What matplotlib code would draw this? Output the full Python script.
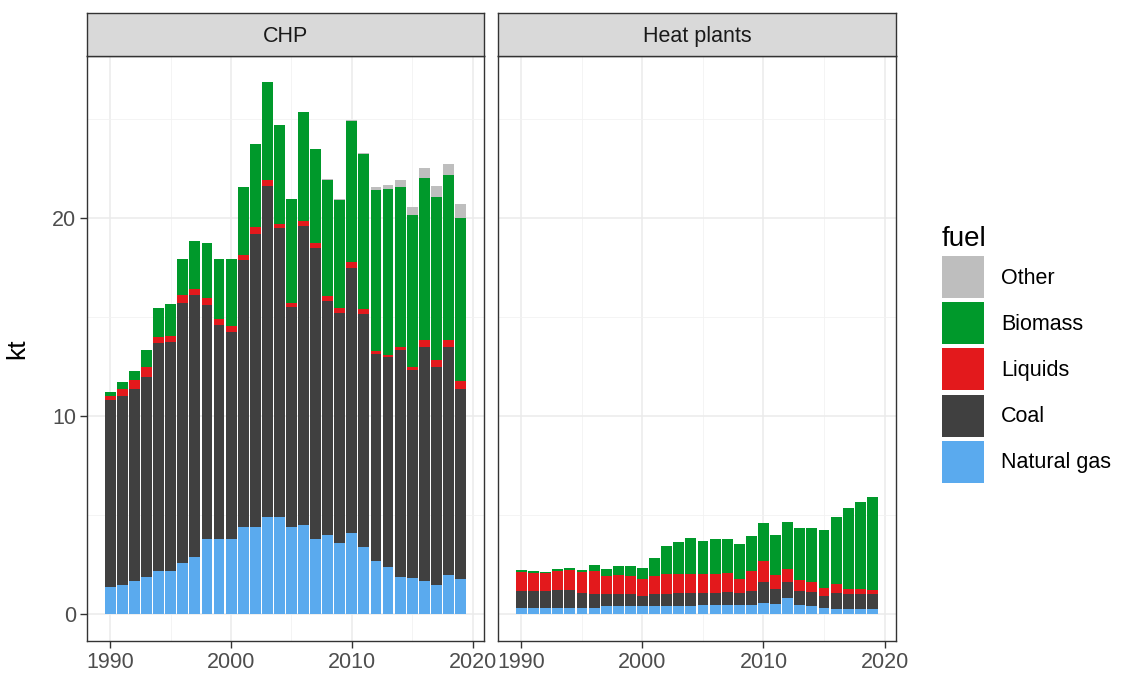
import numpy as np
import matplotlib
matplotlib.use("Agg")
import matplotlib.pyplot as plt
from matplotlib.patches import Patch
from matplotlib.ticker import MultipleLocator

plt.rcParams['font.family'] = ['Liberation Sans', 'DejaVu Sans']

# Data (kt)
years = list(range(1990, 2020))
fuels = ["Natural gas", "Coal", "Liquids", "Biomass", "Other"]
fuel_colors = ["#5AAAEE", "#404040", "#E3191C", "#00992B", "#BEBEBE"]

chp_gas = [1.4, 1.5, 1.7, 1.9, 2.2, 2.2, 2.6, 2.9, 3.8, 3.8,
           3.8, 4.4, 4.4, 4.9, 4.9, 4.4, 4.5, 3.8, 4.0, 3.6,
           4.1, 3.4, 2.7, 2.4, 1.9, 1.85, 1.7, 1.5, 2.0, 1.8]
chp_coal = [9.4, 9.5, 9.7, 10.1, 11.5, 11.55, 13.1, 13.2, 11.8, 10.8,
            10.45, 13.5, 14.8, 16.7, 14.6, 11.1, 15.1, 14.7, 11.8, 11.6,
            13.4, 11.75, 10.45, 10.6, 11.45, 10.5, 11.8, 11.0, 11.5, 9.6]
chp_liquids = [0.2, 0.38, 0.42, 0.5, 0.3, 0.3, 0.42, 0.34, 0.37, 0.32,
               0.33, 0.26, 0.33, 0.34, 0.21, 0.22, 0.25, 0.26, 0.25, 0.26,
               0.3, 0.28, 0.15, 0.1, 0.15, 0.13, 0.33, 0.33, 0.33, 0.38]
chp_biomass = [0.21, 0.37, 0.46, 0.84, 1.46, 1.63, 1.8, 2.39, 2.75, 3.04,
               3.38, 3.4, 4.22, 4.92, 4.97, 5.22, 5.48, 4.75, 5.87, 5.43,
               7.08, 7.79, 8.11, 8.36, 8.08, 7.67, 8.18, 8.26, 8.32, 8.21]
chp_other = [0, 0, 0, 0, 0, 0, 0, 0, 0, 0,
             0, 0, 0, 0, 0, 0, 0, 0, 0.05, 0.05,
             0.05, 0.05, 0.17, 0.21, 0.34, 0.42, 0.51, 0.51, 0.57, 0.73]

heat_gas = [0.34, 0.34, 0.34, 0.34, 0.34, 0.34, 0.34, 0.42, 0.42, 0.42,
            0.42, 0.42, 0.42, 0.42, 0.42, 0.5, 0.5, 0.5, 0.5, 0.5,
            0.59, 0.55, 0.84, 0.5, 0.45, 0.34, 0.29, 0.29, 0.29, 0.29]
heat_coal = [0.84, 0.84, 0.84, 0.89, 0.89, 0.76, 0.67, 0.59, 0.59, 0.59,
             0.51, 0.59, 0.59, 0.64, 0.68, 0.6, 0.6, 0.62, 0.6, 0.68,
             1.05, 0.71, 0.8, 0.68, 0.68, 0.59, 0.81, 0.72, 0.72, 0.72]
heat_liquids = [0.96, 0.92, 0.89, 0.96, 0.99, 1.04, 1.18, 0.93, 0.96, 0.93,
                0.84, 0.93, 1.01, 0.96, 0.92, 0.92, 0.92, 0.98, 0.7, 1.01,
                1.06, 0.71, 0.67, 0.56, 0.51, 0.42, 0.42, 0.25, 0.29, 0.22]
heat_biomass = [0.1, 0.09, 0.07, 0.12, 0.11, 0.1, 0.29, 0.37, 0.48, 0.51,
                0.56, 0.91, 1.44, 1.64, 1.82, 1.7, 1.77, 1.73, 1.74, 1.77,
                1.9, 2.04, 2.36, 2.61, 2.71, 2.9, 3.4, 4.09, 4.35, 4.71]
heat_other = [0] * 30

panels = ["CHP", "Heat plants"]
panel_data = [
    [chp_gas, chp_coal, chp_liquids, chp_biomass, chp_other],
    [heat_gas, heat_coal, heat_liquids, heat_biomass, heat_other],
]

W, H = 1125, 679
fig = plt.figure(figsize=(W / 100, H / 100), dpi=100)

# panel boxes in pixels: (left, top, right, bottom)
boxes = [(87, 56, 484, 641), (498, 56, 896, 641)]
strip_top = 13

tick_col = "#4D4D4D"
edge_col = "#333333"

for i, (name, series) in enumerate(zip(panels, panel_data)):
    l, t, r, b = boxes[i]
    ax = fig.add_axes([l / W, 1 - b / H, (r - l) / W, (b - t) / H])
    bottom = np.zeros(len(years))
    for vals, col in zip(series, fuel_colors):
        ax.bar(years, vals, width=0.9, bottom=bottom, color=col, linewidth=0, zorder=3)
        bottom += np.array(vals)

    ax.set_xlim(1988.06, 2020.95)
    ax.set_ylim(-1.34, 28.18)
    ax.xaxis.set_major_locator(MultipleLocator(10))
    ax.xaxis.set_minor_locator(MultipleLocator(5))
    ax.yaxis.set_major_locator(MultipleLocator(10))
    ax.yaxis.set_minor_locator(MultipleLocator(5))
    ax.grid(which="major", color="#EBEBEB", linewidth=1.1, zorder=0)
    ax.grid(which="minor", color="#F2F2F2", linewidth=0.6, zorder=0)
    ax.tick_params(which="minor", length=0)
    ax.tick_params(which="major", length=5, width=1, color=edge_col,
                   labelcolor=tick_col, labelsize=15.5, pad=3)
    for sp in ax.spines.values():
        sp.set_color(edge_col)
        sp.set_linewidth(1.0)
    if i == 0:
        ax.set_ylabel("kt", fontsize=19, color="black", labelpad=16)
    else:
        ax.tick_params(axis="y", which="both", left=False, labelleft=False)

    # facet strip
    sax = fig.add_axes([l / W, 1 - t / H, (r - l) / W, (t - strip_top) / H])
    sax.set_facecolor("#D9D9D9")
    sax.set_xticks([])
    sax.set_yticks([])
    for sp in sax.spines.values():
        sp.set_color(edge_col)
        sp.set_linewidth(1.0)
    sax.text(0.5, 0.45, name, ha="center", va="center", fontsize=15.5,
             color="#1A1A1A", transform=sax.transAxes)

handles = [Patch(facecolor=c, edgecolor="none") for c in fuel_colors][::-1]
labels = fuels[::-1]
fig.legend(handles, labels, loc="upper left",
           bbox_to_anchor=(942 / W, 1 - 226 / H), frameon=False,
           fontsize=15.5, title="fuel", title_fontsize=20,
           handlelength=1.95, handleheight=2.63, labelspacing=0.19,
           handletextpad=0.8, borderpad=0, borderaxespad=0, alignment="left")

fig.savefig("out.png", dpi=100)
